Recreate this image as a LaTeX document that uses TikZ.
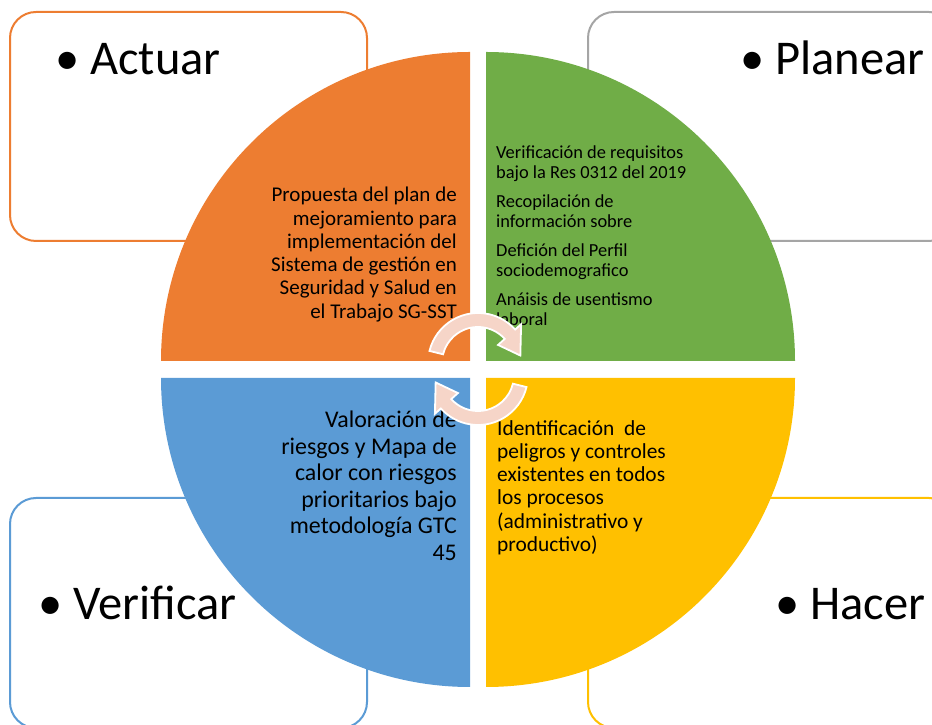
\documentclass[tikz,border=0pt]{standalone}
\usepackage{fontspec}
\setmainfont{Carlito}
\definecolor{qorange}{HTML}{ED7D31}
\definecolor{qgreen}{HTML}{70AD47}
\definecolor{qblue}{HTML}{5B9BD5}
\definecolor{qyellow}{HTML}{FFC000}
\definecolor{qgray}{HTML}{A5A5A5}
\definecolor{cyclepink}{HTML}{F6D5C8}
\begin{document}
\begin{tikzpicture}[x=1pt,y=1pt,
  framebox/.style={rounded corners=26pt, line width=2pt, fill=white},
  bigword/.style={font=\fontsize{48.5}{52}\selectfont, inner sep=0pt, anchor=base west},
  quadtext/.style={inner sep=0pt, text=black},
  cyclearrow/.style={fill=cyclepink, draw=white, line width=1.8pt, line join=miter}]
\useasboundingbox (0,0) rectangle (932,725);
\begin{scope}
\clip (0,0) rectangle (932,725);
% frames
\draw[framebox, draw=qorange] (10,484) rectangle (367,713);
\draw[framebox, draw=qgray] (588,484) rectangle (955,713);
\draw[framebox, draw=qblue] (10,-3) rectangle (367,227);
\draw[framebox, draw=qyellow] (588,-3) rectangle (955,227);
\end{scope}
% labels
\node[bigword] (actuar) at (55,650) {\textbullet\hspace{11pt}Actuar};
\node[bigword] (planear) at (740,650) {\textbullet\hspace{11pt}Planear};
\node[bigword] (verificar) at (38,105) {\textbullet\hspace{11pt}Verificar};
\node[bigword] (hacer) at (775,105) {\textbullet\hspace{11pt}Hacer};
% quadrants
\fill[qorange] (470,364) -- (161,364) arc[start angle=180,end angle=90,radius=309] -- cycle;
\fill[qgreen] (486,364) -- (486,673) arc[start angle=90,end angle=0,radius=309] -- cycle;
\fill[qblue] (470,347) -- (470,38) arc[start angle=270,end angle=180,radius=309] -- cycle;
\fill[qyellow] (486,347) -- (795,347) arc[start angle=0,end angle=-90,radius=309] -- cycle;
% quadrant texts
\node[quadtext, anchor=north east, align=right, font=\fontsize{21}{23.3}\selectfont] (actuartext) at (457,538)
  {Propuesta del plan de\\mejoramiento para\\implementación del\\Sistema de gestión en\\Seguridad y Salud en\\el Trabajo SG-SST};
\node[quadtext, anchor=north west, align=left, font=\fontsize{18.4}{20}\selectfont] (planeartext) at (496,579)
  {Verificación de requisitos\\bajo la Res 0312 del 2019\\[9pt]Recopilación de\\información sobre\\[9pt]Defición del Perfil\\sociodemografico\\[9pt]Anáisis de usentismo\\laboral};
\node[quadtext, anchor=north east, align=right, font=\fontsize{23.9}{26.5}\selectfont] (verificartext) at (457,314)
  {Valoración de\\riesgos y Mapa de\\calor con riesgos\\prioritarios bajo\\metodología GTC\\45};
\node[quadtext, anchor=north west, align=left, font=\fontsize{21.4}{23.3}\selectfont] (hacertext) at (497,305)
  {Identificación\ \ de\\peligros y controles\\existentes en todos\\los procesos\\(administrativo y\\productivo)};
% cycle arrows
\coordinate (c1) at (478,362);
\coordinate (c2) at (478,350);
\draw[cyclearrow] ([shift={(c1)}]166:50) arc[start angle=166,end angle=42,radius=50]
  -- ([shift={(c1)}]42:58) -- ([shift={(c1)}]10:43) -- ([shift={(c1)}]42:27)
  -- ([shift={(c1)}]42:36) arc[start angle=42,end angle=166,radius=36] -- cycle;
\draw[cyclearrow] ([shift={(c2)}]-14:50) arc[start angle=-14,end angle=-138,radius=50]
  -- ([shift={(c2)}]-138:58) -- ([shift={(c2)}]-170:43) -- ([shift={(c2)}]-138:27)
  -- ([shift={(c2)}]-138:36) arc[start angle=-138,end angle=-14,radius=36] -- cycle;
\end{tikzpicture}
\end{document}
